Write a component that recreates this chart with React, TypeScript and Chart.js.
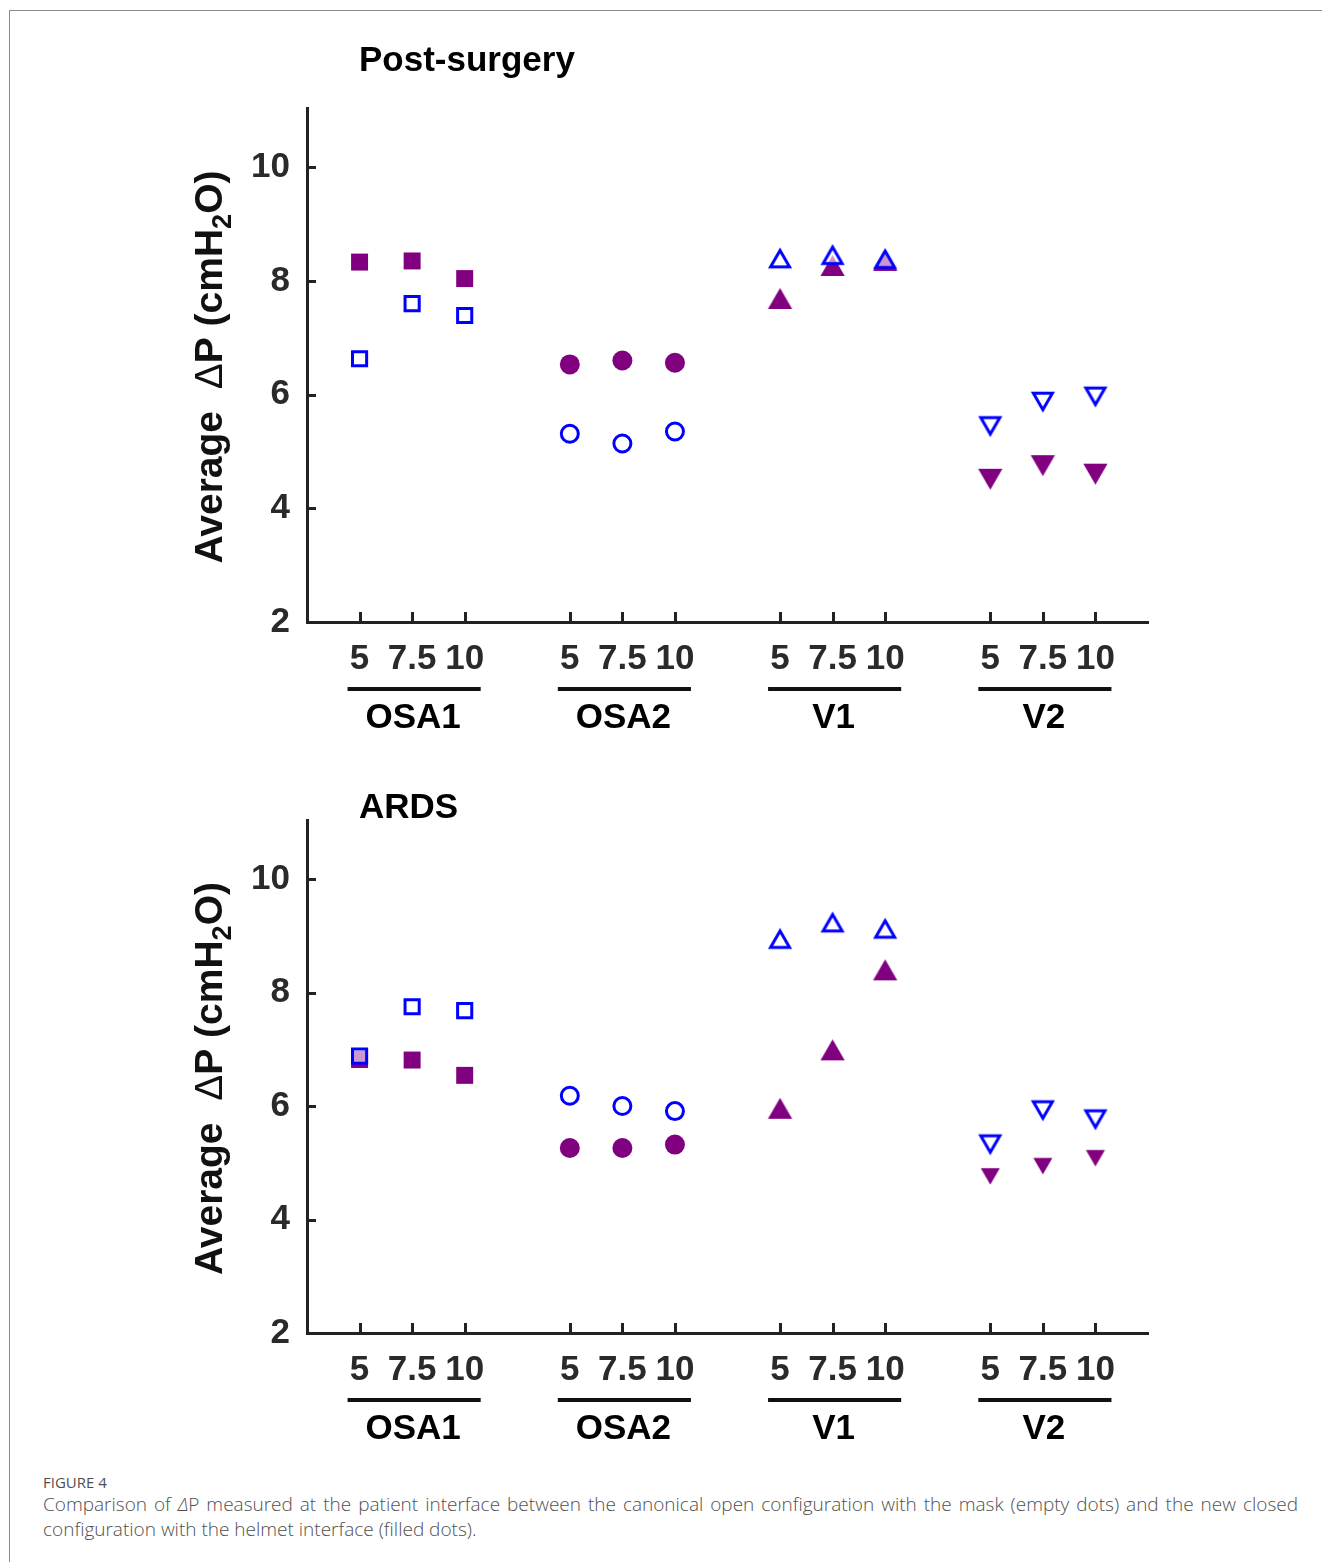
import React, { useEffect, useRef } from 'react';
import { Chart, registerables } from 'chart.js';

Chart.register(...registerables);

// ---------- data ----------
const doseLabels = ['5', '7.5', '10'];
const groupNames = ['OSA1', 'OSA2', 'V1', 'V2'];
const yTickValues = [2, 4, 6, 8, 10];

// Post-surgery — mask (empty markers)
const postMaskOSA1 = [6.63, 7.60, 7.39];
const postMaskOSA2 = [5.31, 5.14, 5.35];
const postMaskV1 = [8.39, 8.45, 8.38];
const postMaskV2 = [5.45, 5.88, 5.97];
// Post-surgery — helmet (filled markers)
const postHelmetOSA1 = [8.33, 8.35, 8.04];
const postHelmetOSA2 = [6.53, 6.60, 6.56];
const postHelmetV1 = [7.69, 8.27, 8.36];
const postHelmetV2 = [4.51, 4.75, 4.60];

// ARDS — mask (empty markers)
const ardsMaskOSA1 = [6.88, 7.75, 7.68];
const ardsMaskOSA2 = [6.18, 6.00, 5.91];
const ardsMaskV1 = [8.94, 9.23, 9.12];
const ardsMaskV2 = [5.33, 5.93, 5.77];
// ARDS — helmet (filled markers)
const ardsHelmetOSA1 = [6.82, 6.81, 6.54];
const ardsHelmetOSA2 = [5.26, 5.26, 5.32];
const ardsHelmetV1 = [5.96, 6.99, 8.40];
const ardsHelmetV2 = [4.76, 4.94, 5.08];

// ---------- styling ----------
const FONT = '"Liberation Sans", Arial, Helvetica, sans-serif';
const AXIS = '#222222';
const BLUE = '#0000ff';
const PURPLE = '#800080';
const OPEN_FILL = 'rgba(255,255,255,0.6)';

const xPositions: number[] = [];
groupNames.forEach((_, gi) => doseLabels.forEach((__, li) => xPositions.push(gi * 4 + li)));

function makeTriangle(r: number, fill: string, stroke: string, lw: number, down: boolean) {
  const w = Math.sqrt(3) * r;
  const h = 1.5 * r;
  const pad = lw ? lw * 2 + 2 : 2;
  const c = document.createElement('canvas');
  c.width = Math.ceil(w + pad * 2);
  c.height = Math.ceil(h + pad * 2);
  const ctx = c.getContext('2d')!;
  const cx = c.width / 2;
  const cy = c.height / 2;
  ctx.beginPath();
  if (!down) {
    ctx.moveTo(cx, cy - h / 2);
    ctx.lineTo(cx + w / 2, cy + h / 2);
    ctx.lineTo(cx - w / 2, cy + h / 2);
  } else {
    ctx.moveTo(cx, cy + h / 2);
    ctx.lineTo(cx + w / 2, cy - h / 2);
    ctx.lineTo(cx - w / 2, cy - h / 2);
  }
  ctx.closePath();
  ctx.fillStyle = fill;
  ctx.fill();
  if (lw) {
    ctx.lineWidth = lw;
    ctx.lineJoin = 'miter';
    ctx.strokeStyle = stroke;
    ctx.stroke();
  }
  return c;
}

type PanelProps = {
  title: string;
  top: number;
  height: number;
  padTop: number;
  padBottom: number;
  titleY: number;
  mask: number[][];
  helmet: number[][];
  filledV2Radius: number;
};

function Panel(props: PanelProps) {
  const ref = useRef<HTMLCanvasElement | null>(null);
  useEffect(() => {
    if (!ref.current) return;
    const triOpenUp = makeTriangle(11, OPEN_FILL, BLUE, 3, false);
    const triOpenDown = makeTriangle(11, OPEN_FILL, BLUE, 3, true);
    const triFillUp = makeTriangle(14, PURPLE, PURPLE, 0, false);
    const triFillDown = makeTriangle(props.filledV2Radius, PURPLE, PURPLE, 0, true);

    const pts = (vals: number[], gi: number) => vals.map((v, li) => ({ x: gi * 4 + li, y: v }));

    const openStyles: any[] = [
      { pointStyle: 'rect', pointRadius: 10, pointBorderWidth: 3 },
      { pointStyle: 'circle', pointRadius: 8.5, pointBorderWidth: 3 },
      { pointStyle: triOpenUp, pointRadius: 11, pointBorderWidth: 0 },
      { pointStyle: triOpenDown, pointRadius: 11, pointBorderWidth: 0 },
    ];
    const fillStyles: any[] = [
      { pointStyle: 'rect', pointRadius: 12 },
      { pointStyle: 'circle', pointRadius: 10 },
      { pointStyle: triFillUp, pointRadius: 14 },
      { pointStyle: triFillDown, pointRadius: props.filledV2Radius },
    ];

    const datasets: any[] = [];
    // mask (blue, drawn on top -> first)
    props.mask.forEach((vals, gi) => {
      datasets.push({
        label: groupNames[gi] + ' mask',
        data: pts(vals, gi),
        showLine: false,
        pointBackgroundColor: OPEN_FILL,
        pointBorderColor: BLUE,
        ...openStyles[gi],
      });
    });
    props.helmet.forEach((vals, gi) => {
      datasets.push({
        label: groupNames[gi] + ' helmet',
        data: pts(vals, gi),
        showLine: false,
        pointBackgroundColor: PURPLE,
        pointBorderColor: PURPLE,
        pointBorderWidth: 0,
        ...fillStyles[gi],
      });
    });

    const decor = {
      id: 'decor',
      afterDraw(chart: any) {
        const ctx: CanvasRenderingContext2D = chart.ctx;
        const xs = chart.scales.x;
        const ys = chart.scales.y;
        const area = chart.chartArea;
        ctx.save();
        // inward tick marks
        ctx.strokeStyle = AXIS;
        ctx.lineWidth = 3;
        ctx.beginPath();
        xPositions.forEach((v) => {
          const px = Math.round(xs.getPixelForValue(v)) + 0.5;
          ctx.moveTo(px, area.bottom);
          ctx.lineTo(px, area.bottom - 10);
        });
        yTickValues.forEach((v) => {
          if (v === 2) return;
          const py = Math.round(ys.getPixelForValue(v)) + 0.5;
          ctx.moveTo(area.left, py);
          ctx.lineTo(area.left + 9, py);
        });
        ctx.stroke();

        // group underlines and labels
        groupNames.forEach((name, gi) => {
          const p0 = xs.getPixelForValue(gi * 4);
          const p1 = xs.getPixelForValue(gi * 4 + 1);
          const p2 = xs.getPixelForValue(gi * 4 + 2);
          ctx.fillStyle = '#111';
          ctx.fillRect(p0 - 12, area.bottom + 65, p2 + 16 - (p0 - 12), 4);
          ctx.font = `bold 35px ${FONT}`;
          ctx.textAlign = 'center';
          ctx.textBaseline = 'middle';
          ctx.fillStyle = '#000';
          ctx.fillText(name, p1 + 1, area.bottom + 96);
        });

        // title
        ctx.font = `bold 35px ${FONT}`;
        ctx.textAlign = 'left';
        ctx.textBaseline = 'middle';
        ctx.fillStyle = '#000';
        ctx.fillText(props.title, 359, props.titleY);

        // y-axis title with subscript
        const big = `bold 39px ${FONT}`;
        const sym = `39px ${FONT}`;
        const small = `bold 27px ${FONT}`;
        const parts = [
          { t: 'Average  ', f: big, dy: 0 },
          { t: 'Δ', f: sym, dy: 0 },
          { t: 'P (cmH', f: big, dy: 0 },
          { t: '2', f: small, dy: 9 },
          { t: 'O)', f: big, dy: 0 },
        ];
        let total = 0;
        const widths = parts.map((p) => {
          ctx.font = p.f;
          const w = ctx.measureText(p.t).width;
          total += w;
          return w;
        });
        const cy = (area.top + area.bottom) / 2 + 2;
        ctx.translate(194, cy);
        ctx.rotate(-Math.PI / 2);
        ctx.textAlign = 'left';
        ctx.textBaseline = 'alphabetic';
        ctx.fillStyle = '#111';
        let x = -total / 2;
        parts.forEach((p, i) => {
          ctx.font = p.f;
          ctx.fillText(p.t, x, 28 + p.dy);
          x += widths[i];
        });
        ctx.restore();
      },
    };

    const chart = new Chart(ref.current, {
      type: 'scatter',
      data: { datasets },
      options: {
        animation: false,
        responsive: false,
        events: [],
        layout: { padding: { left: 157, right: 174, top: props.padTop, bottom: props.padBottom } },
        plugins: { legend: { display: false }, tooltip: { enabled: false }, title: { display: false } },
        scales: {
          x: {
            type: 'linear',
            min: -1,
            max: 15,
            grid: { display: false, drawTicks: false },
            border: { display: true, color: AXIS, width: 3 },
            ticks: {
              padding: 16,
              autoSkip: false,
              maxRotation: 0,
              color: '#2a2a2a',
              font: { family: FONT, size: 35, weight: 'bold' },
              callback: (_v: any, i: number) => doseLabels[i % 3],
            },
            afterBuildTicks: (s: any) => {
              s.ticks = xPositions.map((v) => ({ value: v }));
            },
            afterFit: (s: any) => {
              s.height = 110;
            },
          },
          y: {
            type: 'linear',
            min: 2,
            max: 11.04,
            grid: { display: false, drawTicks: false },
            border: { display: true, color: AXIS, width: 3 },
            ticks: {
              padding: 17,
              color: '#2a2a2a',
              font: { family: FONT, size: 35, weight: 'bold' },
              callback: (v: any) => String(v),
            },
            afterBuildTicks: (s: any) => {
              s.ticks = yTickValues.map((v) => ({ value: v }));
            },
            afterFit: (s: any) => {
              s.width = 150;
            },
          },
        },
      } as any,
      plugins: [decor],
    });
    return () => chart.destroy();
  }, []);
  return (
    <canvas
      ref={ref}
      width={1322}
      height={props.height}
      style={{ position: 'absolute', left: 0, top: props.top, display: 'block' }}
    />
  );
}

export default function App() {
  return (
    <div
      style={{
        position: 'absolute',
        left: 0,
        top: 0,
        width: 1322,
        height: 1562,
        overflow: 'hidden',
        background: '#fff',
      }}
    >
      <div
        style={{
          position: 'absolute',
          left: 9,
          top: 10,
          width: 1320,
          height: 1560,
          borderTop: '1px solid #8a8a8a',
          borderLeft: '1px solid #8a8a8a',
        }}
      />
      <Panel
        title="Post-surgery"
        top={0}
        height={760}
        padTop={108}
        padBottom={28}
        titleY={61}
        mask={[postMaskOSA1, postMaskOSA2, postMaskV1, postMaskV2]}
        helmet={[postHelmetOSA1, postHelmetOSA2, postHelmetV1, postHelmetV2]}
        filledV2Radius={14}
      />
      <Panel
        title="ARDS"
        top={760}
        height={690}
        padTop={60}
        padBottom={7}
        titleY={48}
        mask={[ardsMaskOSA1, ardsMaskOSA2, ardsMaskV1, ardsMaskV2]}
        helmet={[ardsHelmetOSA1, ardsHelmetOSA2, ardsHelmetV1, ardsHelmetV2]}
        filledV2Radius={11}
      />
      <div
        style={{
          position: 'absolute',
          left: 43,
          top: 1473,
          width: 1255,
          fontFamily: '"Open Sans", sans-serif',
          color: '#4f4f4f',
        }}
      >
        <div style={{ fontSize: 15, lineHeight: '19px' }}>FIGURE 4</div>
        <div style={{ fontSize: 19, lineHeight: '25px', textAlign: 'justify', textAlignLast: 'justify' as any, fontWeight: 300 }}>
          Comparison of <i>Δ</i>P measured at the patient interface between the canonical open configuration with the mask (empty dots) and the new closed
        </div>
        <div style={{ fontSize: 19, lineHeight: '25px', fontWeight: 300 }}>
          configuration with the helmet interface (filled dots).
        </div>
      </div>
    </div>
  );
}
